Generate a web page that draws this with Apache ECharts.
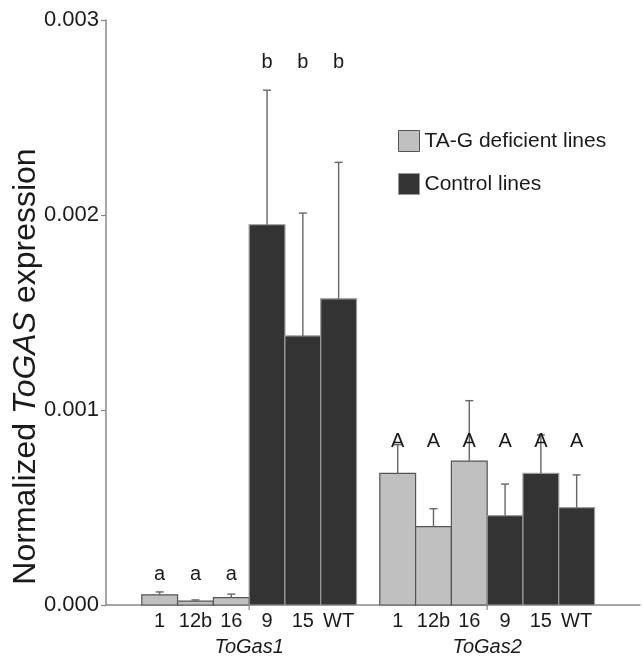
<!DOCTYPE html>
<html>
<head>
<meta charset="utf-8">
<script src="https://cdn.jsdelivr.net/npm/echarts@6/dist/echarts.min.js"></script>
<style>html,body{margin:0;padding:0;background:#fff}#c{width:642px;height:661px}</style>
</head>
<body>
<div id="c"></div>
<script>
// ---- data ----
const genes = ['ToGas1', 'ToGas2'];
const lines = ['1', '12b', '16', '9', '15', 'WT'];
const lineGroup = ['TA-G deficient lines', 'TA-G deficient lines', 'TA-G deficient lines', 'Control lines', 'Control lines', 'Control lines'];
const toGas1Mean = [0.000052, 0.000020, 0.000038, 0.00195, 0.00138, 0.00157];
const toGas1Err  = [0.000015, 0.000006, 0.000018, 0.00069, 0.00063, 0.00070];
const toGas2Mean = [0.000675, 0.000402, 0.000738, 0.000458, 0.000675, 0.000499];
const toGas2Err  = [0.000147, 0.000092, 0.000310, 0.000162, 0.000197, 0.000168];
const toGas1Letters = ['a', 'a', 'a', 'b', 'b', 'b'];
const toGas2Letters = ['A', 'A', 'A', 'A', 'A', 'A'];
const yTicks = [0, 0.001, 0.002, 0.003];

// ---- layout (code, not data) ----
const FONT = 'Liberation Sans, Arial, sans-serif';
const means = [toGas1Mean, toGas2Mean];
const errs = [toGas1Err, toGas2Err];
const letters = [toGas1Letters, toGas2Letters];
const groupStart = [1, 7.65];           // x units (1 unit = one bar width)
const letterLevel = {a: 0.000103, b: 0.00273, A: 0.000785};
const colors = {'TA-G deficient lines': '#c0c0c0', 'Control lines': '#333333'};
const borders = {'TA-G deficient lines': '#555555', 'Control lines': '#9a9a9a'};

function barData(name) {
  const out = [];
  genes.forEach((g, gi) => {
    lines.forEach((l, li) => {
      if (lineGroup[li] === name) out.push([groupStart[gi] + li + 0.5, means[gi][li], errs[gi][li]]);
    });
  });
  return out;
}
const labelData = [], labelText = [], letterData = [], letterText = [];
genes.forEach((g, gi) => {
  lines.forEach((l, li) => {
    labelData.push([groupStart[gi] + li + 0.5, 0]);
    labelText.push(l);
    letterData.push([groupStart[gi] + li + 0.5, letterLevel[letters[gi][li]]]);
    letterText.push(letters[gi][li]);
  });
});
const geneData = genes.map((g, gi) => [groupStart[gi] + lines.length / 2, 0]);

function renderBar(name) {
  return function (params, api) {
    const xc = api.value(0), v = api.value(1), e = api.value(2);
    const tl = api.coord([xc - 0.5, v]);
    const br = api.coord([xc + 0.5, 0]);
    const top = api.coord([xc, v + e]);
    const half = 4;
    return {
      type: 'group',
      children: [
        {type: 'rect', shape: {x: tl[0], y: tl[1], width: br[0] - tl[0], height: br[1] - tl[1]},
         style: {fill: colors[name], stroke: borders[name], lineWidth: 1.2}},
        {type: 'line', shape: {x1: top[0], y1: tl[1], x2: top[0], y2: top[1]},
         style: {stroke: '#666', lineWidth: 1.4}},
        {type: 'line', shape: {x1: top[0] - half, y1: top[1], x2: top[0] + half, y2: top[1]},
         style: {stroke: '#666', lineWidth: 1.4}}
      ]
    };
  };
}

const chart = echarts.init(document.getElementById('c'), null, {renderer: 'canvas'});
chart.setOption({
  animation: false,
  backgroundColor: '#fff',
  grid: {left: 106, right: 2, top: 20, bottom: 56, containLabel: false, outerBoundsMode: 'none'},
  legend: {
    orient: 'vertical', left: 393, top: 125, itemWidth: 21, itemHeight: 21, itemGap: 21,
    icon: 'rect',
    textStyle: {fontFamily: FONT, fontSize: 21, color: '#1a1a1a'},
    data: [
      {name: 'TA-G deficient lines', itemStyle: {color: '#c0c0c0', borderColor: '#555', borderWidth: 1}},
      {name: 'Control lines', itemStyle: {color: '#333333', borderColor: '#9a9a9a', borderWidth: 1}}
    ]
  },
  xAxis: {
    type: 'value', min: 0, max: 14.92,
    axisLine: {show: true, lineStyle: {color: '#888', width: 1.5}},
    axisTick: {show: false}, axisLabel: {show: false}, splitLine: {show: false}
  },
  yAxis: {
    type: 'value', min: yTicks[0], max: yTicks[yTicks.length - 1], interval: yTicks[1] - yTicks[0],
    axisLine: {show: true, lineStyle: {color: '#888', width: 1.5}},
    axisTick: {show: true, length: 5, lineStyle: {color: '#888', width: 1.2}},
    splitLine: {show: false},
    axisLabel: {fontFamily: FONT, fontSize: 22, color: '#1a1a1a', margin: 7,
      formatter: v => v.toFixed(3)},
    name: '{n|Normalized }{i|ToGAS}{n| expression}',
    nameLocation: 'middle', nameGap: 64, nameRotate: 90, nameMoveOverlap: false,
    nameTextStyle: {
      fontFamily: FONT, fontSize: 32, color: '#1a1a1a', padding: [0, 108, 0, 0],
      rich: {n: {fontFamily: FONT, fontSize: 32, color: '#1a1a1a'},
             i: {fontFamily: FONT, fontSize: 32, color: '#1a1a1a', fontStyle: 'italic'}}
    }
  },
  series: [
    {name: 'TA-G deficient lines', type: 'custom', data: barData('TA-G deficient lines'),
     itemStyle: {color: '#c0c0c0'}, renderItem: renderBar('TA-G deficient lines'), clip: false, z: 2},
    {name: 'Control lines', type: 'custom', data: barData('Control lines'),
     itemStyle: {color: '#333333'}, renderItem: renderBar('Control lines'), clip: false, z: 2},
    {name: 'labels', type: 'custom', data: labelData, clip: false, silent: true, z: 3,
     renderItem: (params, api) => {
       const p = api.coord([api.value(0), 0]);
       return {type: 'text', x: p[0], y: p[1] + 6,
         style: {text: labelText[params.dataIndex], fontFamily: FONT, fontSize: 20, fill: '#1a1a1a',
           align: 'center', verticalAlign: 'top'}};
     }},
    {name: 'letters', type: 'custom', data: letterData, clip: false, silent: true, z: 3,
     renderItem: (params, api) => {
       const p = api.coord([api.value(0), api.value(1)]);
       return {type: 'text', x: p[0], y: p[1],
         style: {text: letterText[params.dataIndex], fontFamily: FONT, fontSize: 20, fill: '#1a1a1a',
           align: 'center', verticalAlign: 'bottom'}};
     }},
    {name: 'genes', type: 'custom', data: geneData, clip: false, silent: true, z: 3,
     renderItem: (params, api) => {
       const p = api.coord([api.value(0), 0]);
       return {type: 'group', children: [
         {type: 'line', shape: {x1: p[0], y1: p[1], x2: p[0], y2: p[1] + 5},
          style: {stroke: '#888', lineWidth: 1.2}},
         {type: 'text', x: p[0], y: p[1] + 42,
          style: {text: genes[params.dataIndex], fontFamily: FONT, fontSize: 20, fontStyle: 'italic',
            fill: '#1a1a1a', align: 'center', verticalAlign: 'middle'}}
       ]};
     }}
  ]
});
</script>
</body>
</html>
